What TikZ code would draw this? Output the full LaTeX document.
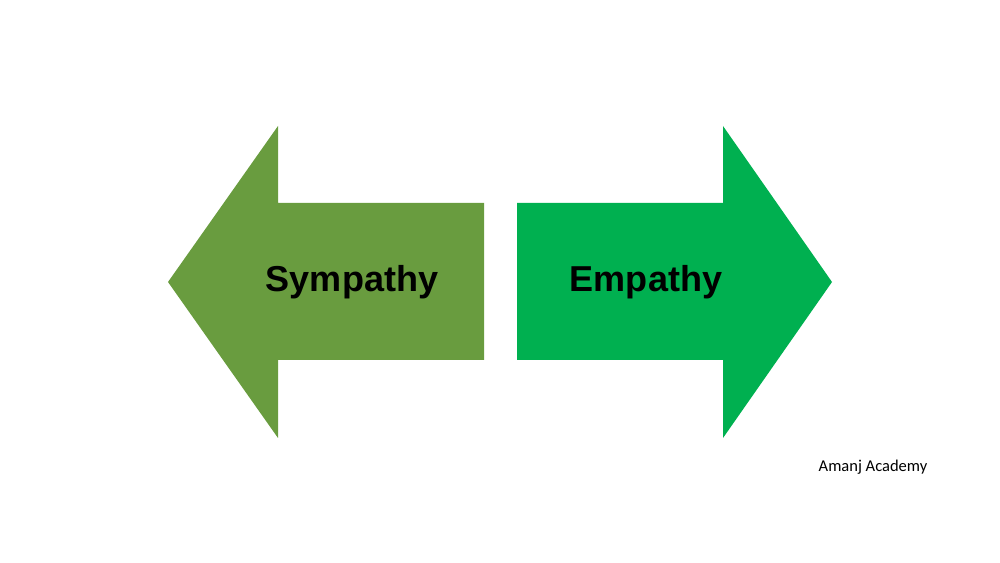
\documentclass[tikz,border=0pt]{standalone}
\usepackage{fontspec}
\setmainfont{Liberation Sans}
\newfontfamily\notefont{Carlito}
\definecolor{sympgreen}{HTML}{699C3F}
\definecolor{empgreen}{HTML}{00B050}
\begin{document}
\begin{tikzpicture}[x=0.02cm, y=-0.02cm]
			\useasboundingbox (0,0) rectangle (1000,563);
			\fill[sympgreen] (168,282) -- (278,126) -- (278,203) -- (484,203) -- (484,360) -- (278,360) -- (278,438) -- cycle;
			\fill[empgreen] (517,203) -- (723,203) -- (723,126) -- (832,282) -- (723,438) -- (723,360) -- (517,360) -- cycle;
			\node[font=\fontsize{20.5}{24}\selectfont\bfseries, inner sep=0pt](symp) at (352,282){Sympathy};
			\node[font=\fontsize{20.5}{24}\selectfont\bfseries, inner sep=0pt](emp) at (646,282){Empathy};
			\node[font=\notefont\fontsize{9.4}{11}\selectfont, inner sep=0pt](academy) at (873,467){Amanj Academy};
			\end{tikzpicture}
\end{document}
